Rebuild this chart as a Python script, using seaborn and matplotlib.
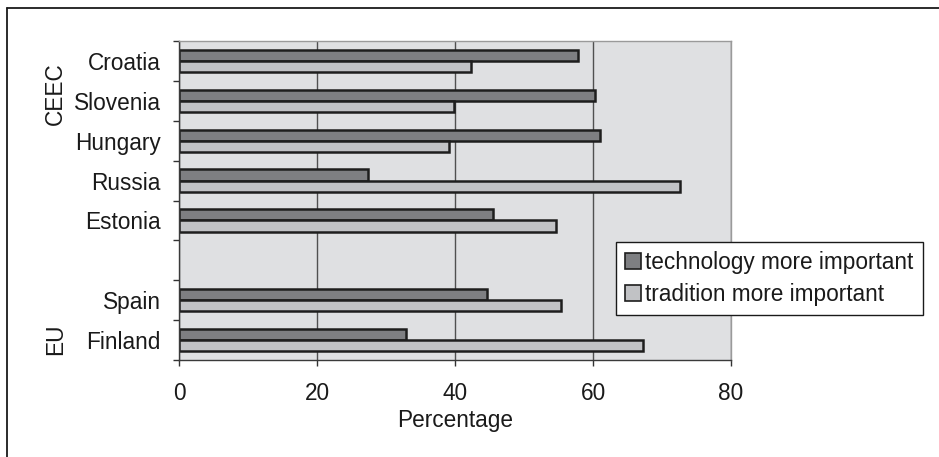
import numpy as np
import pandas as pd
import matplotlib
matplotlib.use("Agg")
import matplotlib.pyplot as plt
from matplotlib.patches import Patch
from matplotlib.lines import Line2D
import seaborn as sns

# ---- data ----
categories = ["Croatia", "Slovenia", "Hungary", "Russia", "Estonia", "", "Spain", "Finland"]
countries = ["Croatia", "Slovenia", "Hungary", "Russia", "Estonia", "Spain", "Finland"]
technology = [57.8, 60.3, 61.0, 27.4, 45.5, 44.7, 32.9]
tradition = [42.3, 39.8, 39.1, 72.6, 54.6, 55.4, 67.2]
series = ["technology more important", "tradition more important"]
x_ticks = [0, 20, 40, 60, 80]

df = pd.DataFrame({
    "country": countries * 2,
    "series": [series[0]] * len(countries) + [series[1]] * len(countries),
    "value": technology + tradition,
})

sns.set_style("white")
plt.rcParams["font.family"] = ["Liberation Sans", "DejaVu Sans"]
FS = 16.3
dark = "#7e7f82"
light = "#c1c2c5"
bg = "#dfe0e2"
edge = "#1e1e1e"

fig = plt.figure(figsize=(9.39, 4.57), dpi=100)
W, H = 939, 457
ax = fig.add_axes([179 / W, 1 - 360 / H, (731 - 179) / W, (360 - 41) / H])
ax.set_facecolor(bg)

sns.barplot(data=df, x="value", y="country", hue="series", order=categories,
            hue_order=series, palette=[dark, light], width=0.56, orient="h",
            edgecolor=edge, linewidth=1.8, saturation=1, errorbar=None,
            legend=False, ax=ax)

ax.set_xlim(0, 80)
ax.set_ylim(len(categories) - 0.5, -0.5)
ax.set_axisbelow(True)
ax.xaxis.grid(True, color="#505050", linewidth=1.0)
ax.yaxis.grid(False)

ax.set_xticks(x_ticks)
ax.set_xticklabels([str(t) for t in x_ticks], fontsize=FS, color="#1a1a1a")
ax.tick_params(axis="x", which="major", length=4.5, width=1, color="#333333",
               direction="out", pad=11, bottom=True)

ax.set_yticks(range(len(categories)))
ax.set_yticklabels(categories, fontsize=FS, color="#1a1a1a")
ax.tick_params(axis="y", which="major", length=0, pad=13)
ax.set_yticks(np.arange(-0.5, len(categories), 1.0), minor=True)
ax.tick_params(axis="y", which="minor", length=4.5, width=1, color="#333333",
               direction="out", left=True)

ax.set_xlabel("Percentage", fontsize=FS, color="#1a1a1a", labelpad=3)
ax.set_ylabel("")

for s in ["left", "bottom"]:
    ax.spines[s].set_color("#3a3a3a")
    ax.spines[s].set_linewidth(1.0)
for s in ["top", "right"]:
    ax.spines[s].set_color("#9a9a9a")
    ax.spines[s].set_linewidth(1.0)

# group labels
fig.text(55 / W, 1 - 94 / H, "CEEC", rotation=90, ha="center", va="center",
         fontsize=FS, color="#1a1a1a")
fig.text(56 / W, 1 - 339 / H, "EU", rotation=90, ha="center", va="center",
         fontsize=FS, color="#1a1a1a")

# legend
handles = [Patch(facecolor=dark, edgecolor=edge, linewidth=1.2),
           Patch(facecolor=light, edgecolor=edge, linewidth=1.2)]
leg = ax.legend(handles, series, loc="upper left",
                bbox_to_anchor=(616 / W, 1 - 242 / H), bbox_transform=fig.transFigure,
                frameon=True, fancybox=False, framealpha=1, edgecolor="#1a1a1a",
                fontsize=FS, handlelength=0.7, handleheight=0.7, handletextpad=0.2,
                labelspacing=0.4, borderpad=0.4, borderaxespad=0)
leg.get_frame().set_linewidth(1.0)
for t in leg.get_texts():
    t.set_color("#1a1a1a")

# outer frame (left and top edges)
fig.add_artist(Line2D([7 / W, 7 / W], [0, 1 - 8 / H], color="#1a1a1a", linewidth=1.3,
                      transform=fig.transFigure))
fig.add_artist(Line2D([7 / W, 1], [1 - 8 / H, 1 - 8 / H], color="#1a1a1a", linewidth=1.3,
                      transform=fig.transFigure))

fig.savefig("out.png", dpi=100)
